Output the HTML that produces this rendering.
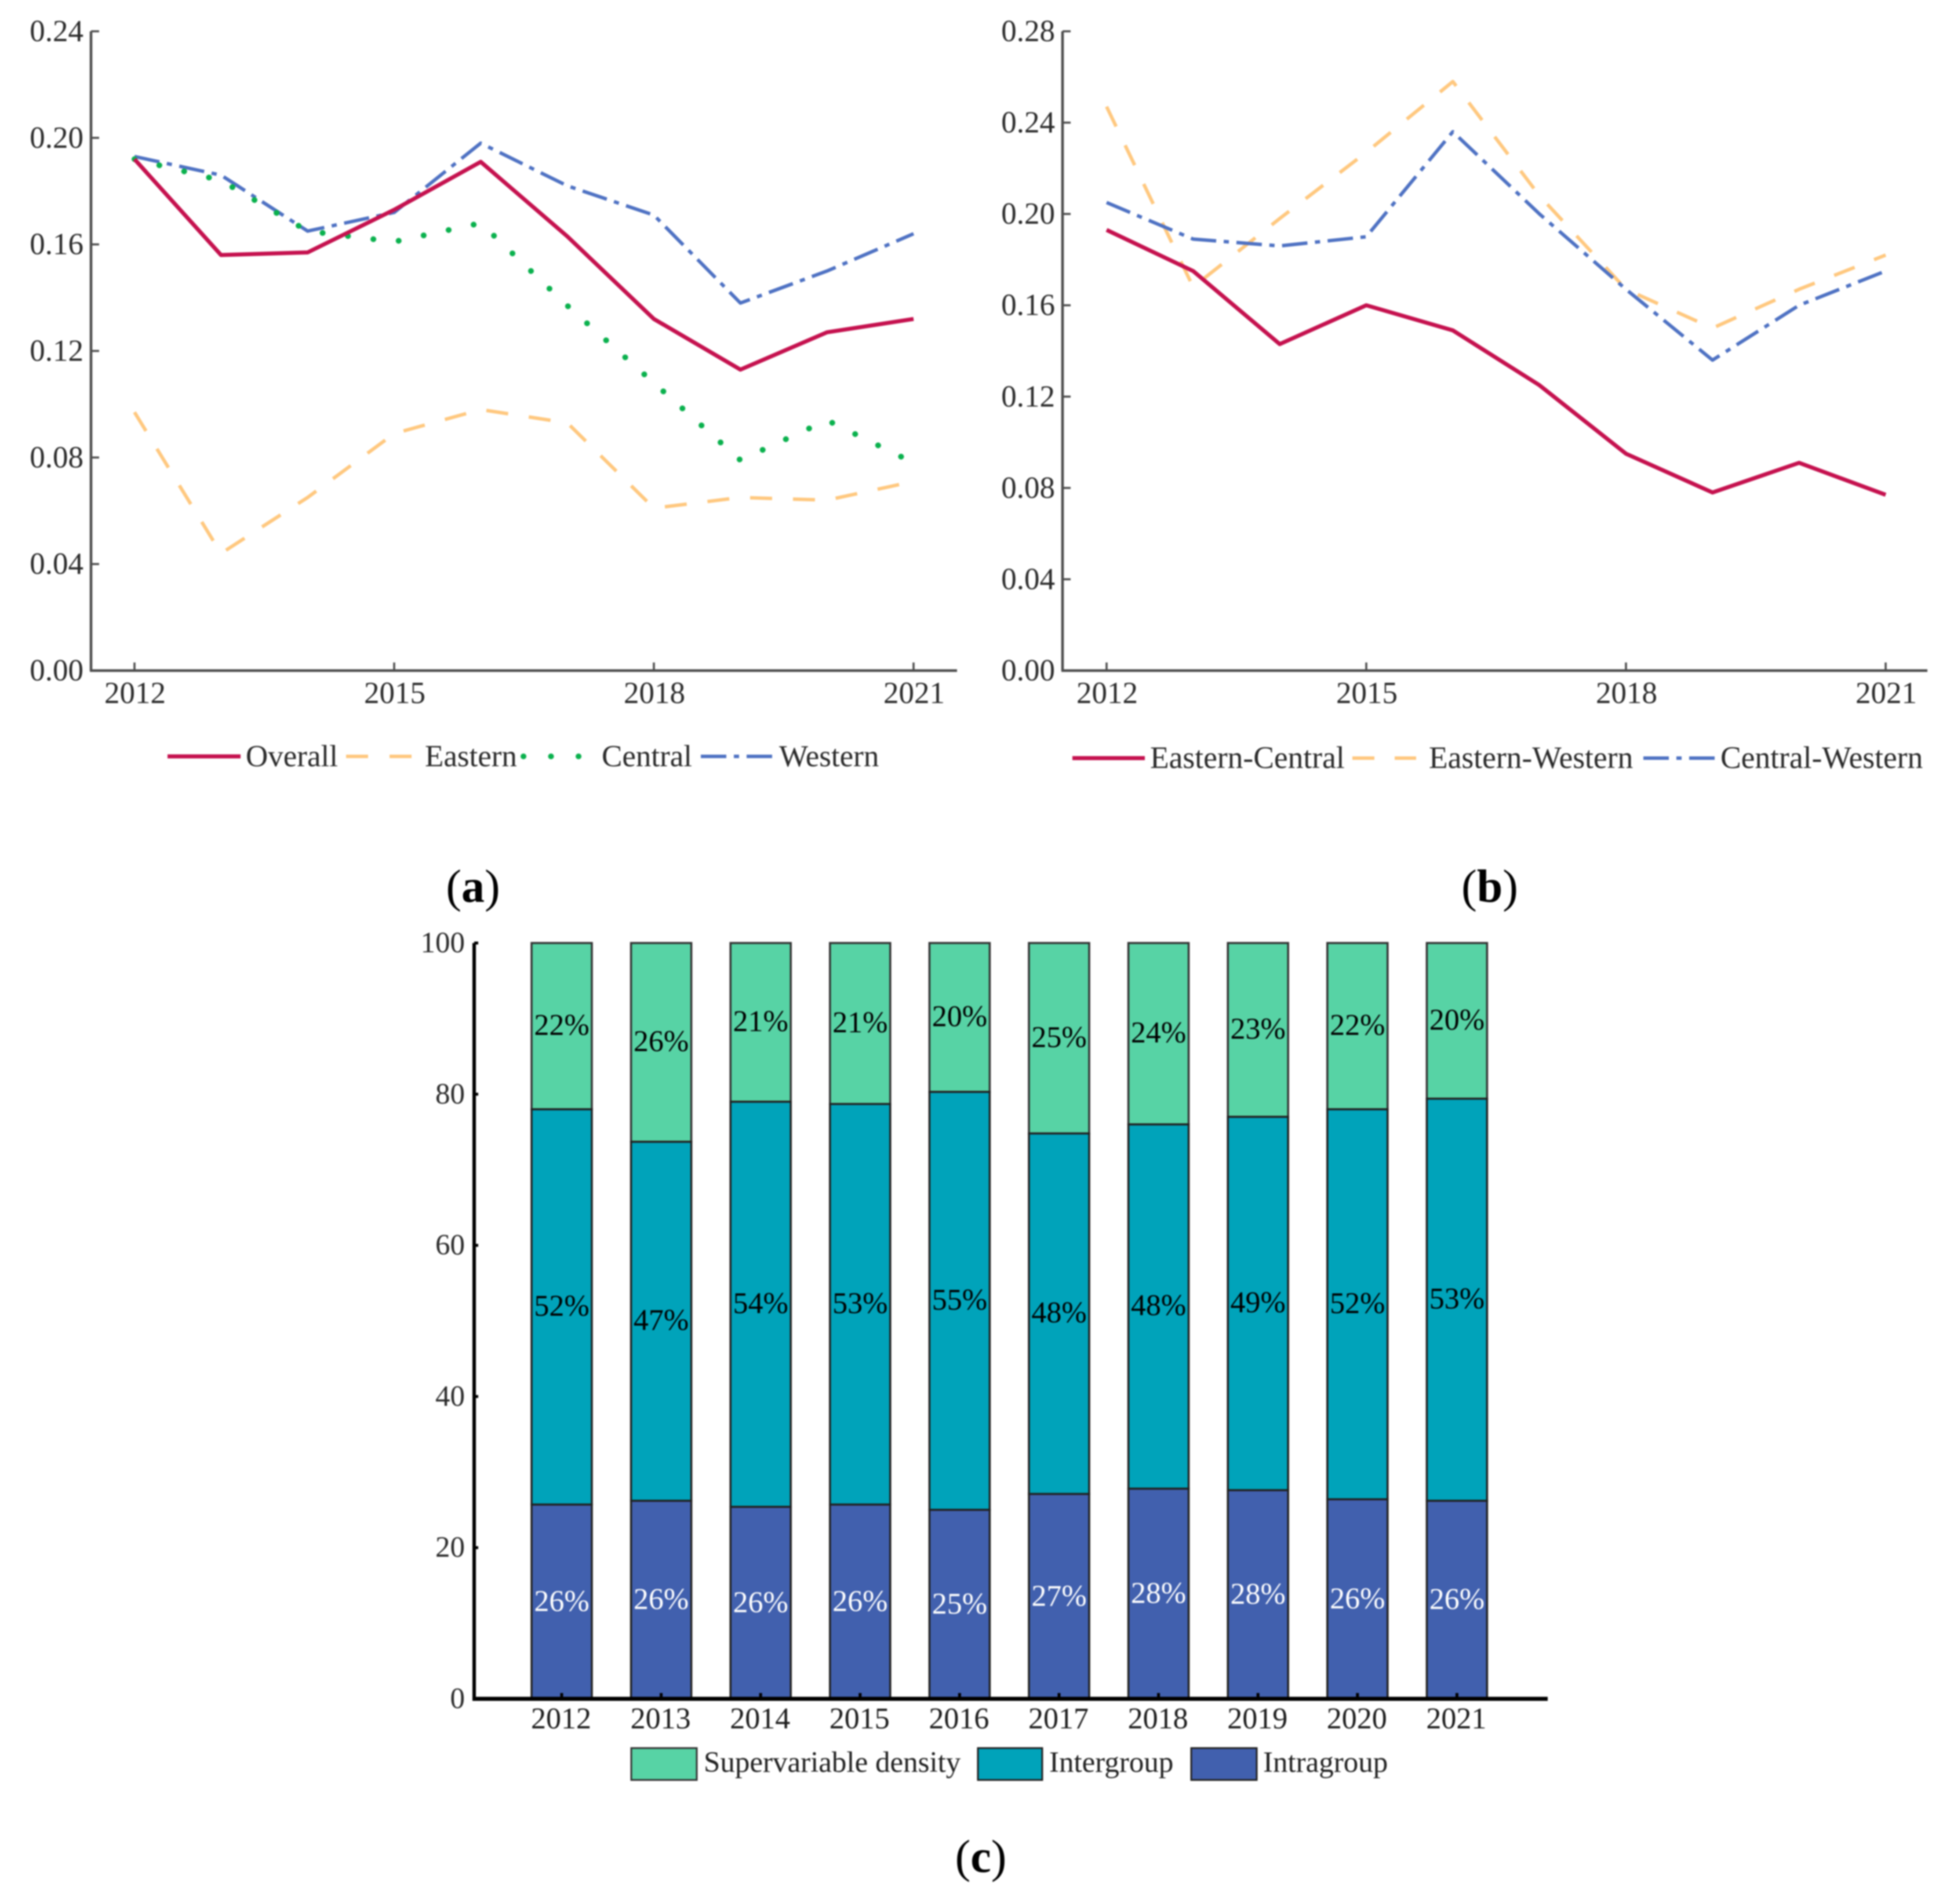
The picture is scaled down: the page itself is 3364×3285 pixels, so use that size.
<!DOCTYPE html>
<html lang="en">
<head>
<meta charset="utf-8">
<title>Density contribution charts</title>
<style>
html,body{margin:0;padding:0;background:#fff;}
svg{display:block;filter:blur(1.2px);font-family:"Liberation Serif",serif;}
</style>
</head>
<body>
<svg id="figure" xmlns="http://www.w3.org/2000/svg" width="3364" height="3285" viewBox="0 0 3364 3285">
  <rect width="3364" height="3285" fill="#fff"/>

  <g id="chart-a"></g>
  <g id="chart-b"></g>
  <g id="chart-c"></g>

  <g font-size="53" fill="#2b2b2b">
    <line x1="289" y1="1305" x2="415" y2="1305" stroke="#C5124F" stroke-width="7"/>
    <text x="424" y="1322">Overall</text>
    <line x1="597" y1="1305" x2="710" y2="1305" stroke="#FFC87F" stroke-width="6" stroke-dasharray="38 37"/>
    <text x="733" y="1322">Eastern</text>
    <line x1="903" y1="1305" x2="999" y2="1305" stroke="#0BB14E" stroke-width="10" stroke-linecap="round" stroke-dasharray="0.1 47.4"/>
    <text x="1038" y="1322">Central</text>
    <line x1="1209" y1="1305" x2="1332" y2="1305" stroke="#4F72C3" stroke-width="6" stroke-dasharray="44 13 9 13"/>
    <text x="1344" y="1322">Western</text>
  </g>

  <g font-size="53.5" fill="#2b2b2b">
    <line x1="1850" y1="1308" x2="1975" y2="1308" stroke="#C5124F" stroke-width="7"/>
    <text x="1984" y="1325">Eastern-Central</text>
    <line x1="2333" y1="1308" x2="2443" y2="1308" stroke="#FFC87F" stroke-width="6" stroke-dasharray="38 35"/>
    <text x="2465" y="1325">Eastern-Western</text>
    <line x1="2835" y1="1308" x2="2958" y2="1308" stroke="#4F72C3" stroke-width="6" stroke-dasharray="44 13 9 13"/>
    <text x="2968" y="1325">Central-Western</text>
  </g>

  <g font-size="51" fill="#222">
    <rect x="1089" y="3016" width="113" height="55" fill="#57D3A5" stroke="#333" stroke-width="3"/>
    <text x="1214" y="3057">Supervariable density</text>
    <rect x="1687" y="3016" width="111" height="55" fill="#00A3BA" stroke="#222" stroke-width="3"/>
    <text x="1810" y="3057">Intergroup</text>
    <rect x="2055" y="3016" width="113" height="55" fill="#4160AE" stroke="#222" stroke-width="3"/>
    <text x="2179" y="3057">Intragroup</text>
  </g>

  <g font-size="80" fill="#000" text-anchor="middle">
    <text x="816" y="1556">(<tspan font-weight="bold">a</tspan>)</text>
    <text x="2570" y="1556">(<tspan font-weight="bold">b</tspan>)</text>
    <text x="1692" y="3230">(<tspan font-weight="bold">c</tspan>)</text>
  </g>
</svg>

<script>
// ---------- data: chart (a) ----------
const years = [2012, 2013, 2014, 2015, 2016, 2017, 2018, 2019, 2020, 2021];
const lineXTickLabels = [2012, 2015, 2018, 2021];

const overall = [0.192, 0.156, 0.157, 0.173, 0.191, 0.163, 0.132, 0.113, 0.127, 0.132];
const eastern = [0.097, 0.044, 0.065, 0.089, 0.098, 0.093, 0.061, 0.065, 0.064, 0.071];
const central = [0.192, 0.184, 0.165, 0.161, 0.168, 0.137, 0.108, 0.079, 0.094, 0.078];
const western = [0.193, 0.186, 0.165, 0.172, 0.198, 0.182, 0.171, 0.138, 0.150, 0.164];
const chartAYTicks = [0.00, 0.04, 0.08, 0.12, 0.16, 0.20, 0.24];

// ---------- data: chart (b) ----------
const easternCentral = [0.193, 0.175, 0.143, 0.160, 0.149, 0.125, 0.095, 0.078, 0.091, 0.077];
const easternWestern = [0.247, 0.168, 0.198, 0.227, 0.258, 0.208, 0.167, 0.150, 0.167, 0.182];
const centralWestern = [0.205, 0.189, 0.186, 0.190, 0.236, 0.200, 0.167, 0.136, 0.160, 0.175];
const chartBYTicks = [0.00, 0.04, 0.08, 0.12, 0.16, 0.20, 0.24, 0.28];

// ---------- data: chart (c) ----------
const intragroup = [25.7, 26.2, 25.4, 25.7, 25.0, 27.1, 27.8, 27.6, 26.4, 26.2];
const intergroup = [52.3, 47.5, 53.6, 53.0, 55.3, 47.7, 48.2, 49.4, 51.6, 53.2];
const density = [22.0, 26.3, 21.0, 21.3, 19.7, 25.2, 24.0, 23.0, 22.0, 20.6];
const intragroupLabels = ['26%', '26%', '26%', '26%', '25%', '27%', '28%', '28%', '26%', '26%'];
const intergroupLabels = ['52%', '47%', '54%', '53%', '55%', '48%', '48%', '49%', '52%', '53%'];
const densityLabels = ['22%', '26%', '21%', '21%', '20%', '25%', '24%', '23%', '22%', '20%'];
const chartCYTicks = [0, 20, 40, 60, 80, 100];

// ---------- helpers ----------
const NS = 'http://www.w3.org/2000/svg';
function make(parent, tag, props, content) {
  const el = document.createElementNS(NS, tag);
  for (const k in props) el.setAttribute(k, props[k]);
  if (content !== undefined) el.textContent = content;
  parent.appendChild(el);
  return el;
}

function drawLineChart(root, cfg) {
  const xScale = function (year) {
    return cfg.x0 + (year - years[0]) / (years[years.length - 1] - years[0]) * (cfg.x1 - cfg.x0);
  };
  const yScale = function (v) {
    return cfg.y0 - v / cfg.yMax * (cfg.y0 - cfg.yTop);
  };

  const yAxis = make(root, 'line', {x1: cfg.axisX, x2: cfg.axisX, y1: cfg.yTop, y2: cfg.y0, stroke: '#4d4d4d', 'stroke-width': 4.5});
  
  

  const xAxis = make(root, 'line', {x1: cfg.axisX - 2, x2: cfg.axisEnd, y1: cfg.y0, y2: cfg.y0, stroke: '#4d4d4d', 'stroke-width': 4.5});
  
  

  cfg.yTicks.forEach(function (t) {
    const tick = make(root, 'line', {x1: cfg.axisX, x2: cfg.axisX + 14, y1: yScale(t), y2: yScale(t), stroke: '#4d4d4d', 'stroke-width': 3.5});
    
    
    const label = make(root, 'text', {x: cfg.axisX - 13, y: yScale(t) + 17, 'text-anchor': 'end', 'font-size': 53, fill: '#2b2b2b'}, t.toFixed(2));
    
    
  });

  lineXTickLabels.forEach(function (t) {
    const tick = make(root, 'line', {x1: xScale(t), x2: xScale(t), y1: cfg.y0, y2: cfg.y0 - 14, stroke: '#4d4d4d', 'stroke-width': 3.5});
    
    
    const label = make(root, 'text', {x: xScale(t) + 1, y: cfg.y0 + 56, 'text-anchor': 'middle', 'font-size': 53, fill: '#2b2b2b'}, String(t));
    
    
  });

  cfg.series.forEach(function (s) {
    const pts = s.values.map(function (v, i) {
      return xScale(years[i]).toFixed(1) + ',' + yScale(v).toFixed(1);
    }).join(' ');
    const line = make(root, 'polyline', {
      points: pts, fill: 'none', stroke: s.color, 'stroke-width': s.width,
      'stroke-dasharray': s.dash, 'stroke-linecap': s.cap, 'stroke-linejoin': 'round'
    });
    
    
  });
}

drawLineChart(document.getElementById('chart-a'), {
  axisX: 157, axisEnd: 1651, x0: 232, x1: 1576, y0: 1157, yTop: 54, yMax: 0.24,
  yTicks: chartAYTicks,
  series: [
    {name: 'line-western', values: western, color: '#4F72C3', width: 6, dash: '44 13 9 13', cap: 'butt'},
    {name: 'line-central', values: central, color: '#0BB14E', width: 10, dash: '0.1 44', cap: 'round'},
    {name: 'line-eastern', values: eastern, color: '#FFC87F', width: 6, dash: '38 36', cap: 'butt'},
    {name: 'line-overall', values: overall, color: '#C5124F', width: 7, dash: 'none', cap: 'butt'}
  ]
});

drawLineChart(document.getElementById('chart-b'), {
  axisX: 1833, axisEnd: 3325, x0: 1909, x1: 3253, y0: 1157, yTop: 54, yMax: 0.28,
  yTicks: chartBYTicks,
  series: [
    {name: 'line-eastern-western', values: easternWestern, color: '#FFC87F', width: 6, dash: '38 36', cap: 'butt'},
    {name: 'line-central-western', values: centralWestern, color: '#4F72C3', width: 6, dash: '44 13 9 13', cap: 'butt'},
    {name: 'line-eastern-central', values: easternCentral, color: '#C5124F', width: 7, dash: 'none', cap: 'butt'}
  ]
});

// ---------- chart (c) ----------
(function () {
  const root = document.getElementById('chart-c');
  const axisX = 818, axisEnd = 2670, y0 = 2931, yTop = 1627;
  const firstCenter = 969, step = 171.6, barW = 104;
  const yScale = function (v) { return y0 - v / 100 * (y0 - yTop); };
  const xScale = function (i) { return firstCenter + i * step; };

  years.forEach(function (yr, i) {
    const a = intragroup[i];
    const b = a + intergroup[i];
    const c = b + density[i];
    const left = xScale(i) - barW / 2;

    const segDensity = make(root, 'rect', {x: left, y: yScale(c), width: barW, height: yScale(b) - yScale(c), fill: '#57D3A5', stroke: '#333', 'stroke-width': 3.5});
    
    

    const segInter = make(root, 'rect', {x: left, y: yScale(b), width: barW, height: yScale(a) - yScale(b), fill: '#00A3BA', stroke: '#222', 'stroke-width': 3.5});
    
    

    const segIntra = make(root, 'rect', {x: left, y: yScale(a), width: barW, height: yScale(0) - yScale(a), fill: '#4160AE', stroke: '#222', 'stroke-width': 3.5});
    
    

    const l1 = make(root, 'text', {x: xScale(i), y: yScale((b + c) / 2) + 15, 'text-anchor': 'middle', 'font-size': 52, fill: '#000'}, densityLabels[i]);
    
    

    const l2 = make(root, 'text', {x: xScale(i), y: yScale((a + b) / 2) + 15, 'text-anchor': 'middle', 'font-size': 52, fill: '#000'}, intergroupLabels[i]);
    
    

    const l3 = make(root, 'text', {x: xScale(i), y: yScale(a / 2) + 16, 'text-anchor': 'middle', 'font-size': 52, fill: '#fff'}, intragroupLabels[i]);
    
    

    const tick = make(root, 'line', {x1: xScale(i), x2: xScale(i), y1: y0, y2: y0 - 10, stroke: '#000', 'stroke-width': 5});
    
    

    const xl = make(root, 'text', {x: xScale(i) - 1, y: y0 + 51, 'text-anchor': 'middle', 'font-size': 52, fill: '#1c1c1c'}, String(yr));
    
    
  });

  const yAxis = make(root, 'line', {x1: axisX, x2: axisX, y1: yTop, y2: y0 + 3, stroke: '#000', 'stroke-width': 6});
  
  

  const xAxis = make(root, 'line', {x1: axisX - 3, x2: axisEnd, y1: y0, y2: y0, stroke: '#000', 'stroke-width': 7});
  
  

  chartCYTicks.forEach(function (t) {
    const tick = make(root, 'line', {x1: axisX, x2: axisX + 7, y1: yScale(t), y2: yScale(t), stroke: '#000', 'stroke-width': 5});
    
    
    const label = make(root, 'text', {x: axisX - 16, y: yScale(t) + 16, 'text-anchor': 'end', 'font-size': 51, fill: '#2b2b2b'}, String(t));
    
    
  });
})();
</script>
</body>
</html>
